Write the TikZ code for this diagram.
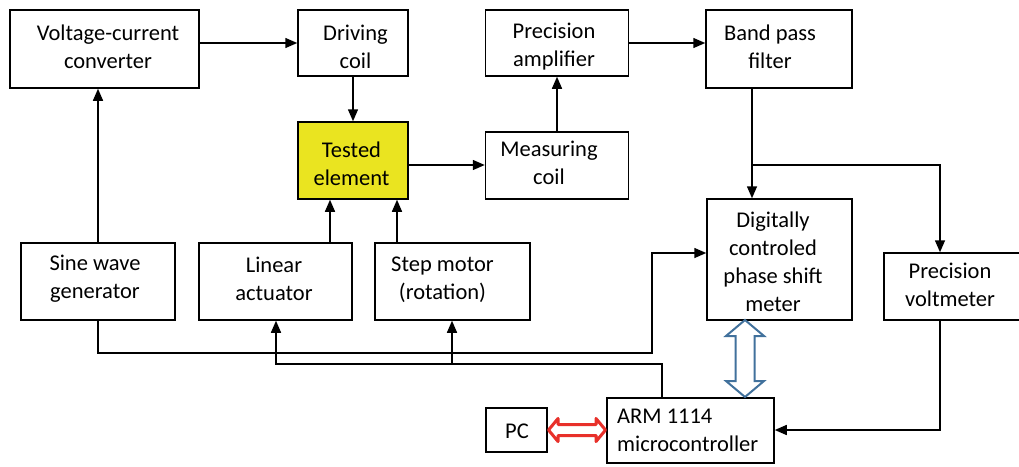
\documentclass[tikz,border=0pt]{standalone}
\usepackage{fontspec}
\setmainfont{Carlito}
\usetikzlibrary{arrows.meta,calc}
\definecolor{testyellow}{RGB}{234,228,32}
\definecolor{busblue}{RGB}{65,113,156}
\definecolor{pcred}{RGB}{232,48,42}
\tikzset{
  box/.style={draw, line width=1.5pt, inner sep=0pt},
  txt/.style={inner sep=0pt, align=center, font=\fontsize{22.5}{28}\selectfont},
  arr/.style={line width=1.5pt, -{Triangle[length=12pt,width=10pt]}},
  wire/.style={line width=1.5pt}
}
\begin{document}
\begin{tikzpicture}[x=1pt,y=-1pt]
\clip (0,0) rectangle (1019,466);
\fill[white] (0,0) rectangle (1019,466);
% boxes
\node[box, minimum width=189, minimum height=78] (vc) at (104.5,49) {};
\node[box, minimum width=110, minimum height=66] (dc) at (353,43) {};
\node[box, minimum width=143, minimum height=66] (pa) at (557,43) {};
\node[box, minimum width=146, minimum height=78] (bpf) at (779,49) {};
\node[box, fill=testyellow, minimum width=110, minimum height=77] (te) at (353,160.5) {};
\node[box, minimum width=143, minimum height=67] (mc) at (557,165.5) {};
\node[box, minimum width=145, minimum height=121] (dpsm) at (779.5,259.5) {};
\node[box, minimum width=142, minimum height=67] (pv) at (955,286.5) {};
\node[box, minimum width=154, minimum height=77] (sine) at (98,281.5) {};
\node[box, minimum width=153, minimum height=77] (la) at (275.5,281.5) {};
\node[box, minimum width=155, minimum height=77] (sm) at (452.5,281.5) {};
\node[box, minimum width=167, minimum height=65] (arm) at (690.5,430.5) {};
\node[box, minimum width=61, minimum height=44] (pc) at (516.5,430) {};
% texts
\node[txt] (vct) at (108,47) {Voltage-current\\converter};
\node[txt] (dct) at (355.5,47) {Driving\\coil};
\node[txt] (pat) at (554,47) {Precision\\amplifier};
\node[txt] (bpft) at (770,47) {Band pass\\filter};
\node[txt] (tet) at (351.5,163.5) {Tested\\element};
\node[txt] (mct) at (549,163) {Measuring\\coil};
\node[txt] (dpsmt) at (773,262) {Digitally\\controled\\phase shift\\meter};
\node[txt] (pvt) at (950,284.5) {Precision\\voltmeter};
\node[txt] (sinet) at (95,279) {Sine wave\\generator};
\node[txt] (lat) at (274,279) {Linear\\actuator};
\node[txt] (smt) at (442.5,280) {Step motor\\(rotation)};
\node[txt, align=left, anchor=west] (armt) at (617,430.5) {ARM 1114\\microcontroller};
\node[txt] (pct) at (517,431) {PC};
% connectors
\draw[arr] (vc.east |- dc.west) -- (dc.west);
\draw[arr] (dc.south) -- (te.north);
\draw[arr] (te.east |- 0,165) -- (mc.west |- 0,165);
\draw[arr] (mc.north) -- (pa.south);
\draw[arr] (pa.east) -- (pa.east -| bpf.west);
\coordinate (split) at (752,165);
\draw[wire] (bpf.south -| split) -- (split);
\draw[arr] (split) -- (split |- dpsm.north);
\draw[arr] (split) -| ([xshift=-15pt]pv.north);
\draw[arr] (sine.north) -- (sine.north |- vc.south);
\draw[arr] (la.north -| 330,0) -- (te.south -| 330,0);
\draw[arr] (sm.north -| 397,0) -- (te.south -| 397,0);
\draw[arr] (sine.south) |- (652,353) |- (dpsm.west |- 0,253);
\draw[arr] (arm.north -| 662,0) |- (276,364) -- (la.south -| 276,0);
\draw[arr] (452,364) -- (sm.south -| 452,0);
\draw[arr] ([xshift=-15pt]pv.south) |- (arm.east |- 0,430);
% hollow double arrows
\draw[busblue, line width=2pt, fill=white, line join=miter]
  (745,320) -- (764,336) -- (754.5,336) -- (754.5,381) -- (764,381) -- (745,397)
  -- (726,381) -- (735.5,381) -- (735.5,336) -- (726,336) -- cycle;
\draw[pcred, line width=3pt, fill=white, line join=round]
  (548.5,430) -- (558,418.5) -- (558,424.5) -- (596,424.5) -- (596,418.5) -- (605.5,430)
  -- (596,441.5) -- (596,435.5) -- (558,435.5) -- (558,441.5) -- cycle;
\end{tikzpicture}
\end{document}
